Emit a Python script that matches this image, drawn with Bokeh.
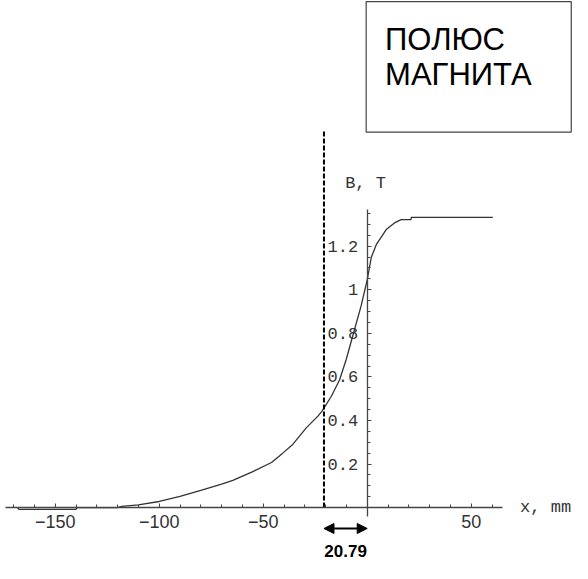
from bokeh.plotting import figure
from bokeh.models import (Range1d, FixedTicker, Label, BoxAnnotation, Arrow,
                          NormalHead, ColumnDataSource)
from bokeh.embed import file_html
from bokeh.resources import INLINE

# ---- data ----
x_mm = [-168, -167.5, -140, -139.5, -120, -118, -110, -100, -90, -80, -70,
        -64.6, -55, -46, -40.6, -35.8, -29.3, -23.7, -21.8, -17.3, -13.3,
        -10.1, -6.9, -2.9, 0, 2, 4.5, 9.3, 13.1, 16.3, 21, 21.2, 60.4]
b_t = [0, -0.008, -0.008, 0, 0, 0.006, 0.012, 0.028, 0.052, 0.079, 0.108,
       0.125, 0.165, 0.207, 0.25, 0.29, 0.366, 0.42, 0.442, 0.51, 0.586,
       0.68, 0.79, 0.927, 1.045, 1.15, 1.21, 1.278, 1.307, 1.322, 1.322,
       1.332, 1.332]

x_major_ticks = [-150, -100, -50, 50]
x_tick_labels = ["\u2212150", "\u2212100", "\u221250", "50"]
x_minor_ticks = [-170, -160, -150, -140, -130, -120, -110, -100, -90, -80,
                 -70, -60, -50, -40, -30, -20, -10, 0, 10, 20, 30, 40, 50, 60]
y_major_ticks = [0.2, 0.4, 0.6, 0.8, 1.0, 1.2]
y_tick_labels = ["0.2", "0.4", "0.6", "0.8", "1", "1.2"]
y_minor_ticks = [0.05, 0.1, 0.15, 0.2, 0.25, 0.3, 0.35, 0.4, 0.45, 0.5, 0.55,
                 0.6, 0.65, 0.7, 0.75, 0.8, 0.85, 0.9, 0.95, 1.0, 1.05, 1.1,
                 1.15, 1.2, 1.25, 1.3, 1.35]

pole_gap = 20.79          # distance of the dashed line from the pole edge
dashed_top = 1.732
x_label = "x, mm"
y_label = "B, T"
box_lines = ["ПОЛЮС", "МАГНИТА"]

# ---- figure ----
p = figure(width=572, height=563, output_backend="svg", toolbar_location=None,
           x_range=Range1d(-176.3, 98.7), y_range=Range1d(-0.2567, 2.328),
           min_border=0)
p.outline_line_color = None
p.grid.visible = False
p.background_fill_color = "white"

axis_color = "#444444"
for ax in (p.xaxis[0], p.yaxis[0]):
    ax.fixed_location = 0
    ax.axis_line_color = axis_color
    ax.axis_line_width = 1.3
    ax.major_tick_line_color = axis_color
    ax.minor_tick_line_color = axis_color
    ax.major_tick_in = 4
    ax.major_tick_out = 0
    ax.minor_tick_in = 3
    ax.minor_tick_out = 0

xa = p.xaxis[0]
xa.ticker = FixedTicker(ticks=x_major_ticks, minor_ticks=x_minor_ticks)
xa.major_label_overrides = dict(zip([float(t) for t in x_major_ticks], x_tick_labels))
xa.bounds = (-174, 65)
xa.major_label_text_font = "Liberation Sans"
xa.major_label_text_font_size = "18px"
xa.major_label_text_color = "#333333"
xa.major_label_standoff = 7

ya = p.yaxis[0]
ya.ticker = FixedTicker(ticks=y_major_ticks, minor_ticks=y_minor_ticks)
ya.major_label_overrides = dict(zip(y_major_ticks, y_tick_labels))
ya.bounds = (-0.04, 1.37)
ya.major_label_text_font = "Liberation Mono"
ya.major_label_text_font_size = "17px"
ya.major_label_text_color = "#333333"
ya.major_label_standoff = 9

# curve
src = ColumnDataSource(data=dict(x=x_mm, y=b_t))
p.line("x", "y", source=src, line_color="#333333", line_width=1.3)

# dashed line at the measured distance
p.segment(x0=[-pole_gap], y0=[0], x1=[-pole_gap], y1=[dashed_top],
          line_color="black", line_width=2, line_dash="5 2")

# double arrow with the distance
p.add_layout(Arrow(start=NormalHead(size=10, fill_color="black", line_color="black"),
                   end=NormalHead(size=10, fill_color="black", line_color="black"),
                   x_start=-pole_gap, y_start=-0.096, x_end=0, y_end=-0.096,
                   line_width=2, line_color="black"))
p.add_layout(Label(x=-pole_gap / 2, y=-0.198, text=f"{pole_gap:.2f}",
                   text_font="Liberation Sans", text_font_size="17px",
                   text_font_style="bold", text_align="center",
                   text_baseline="middle", text_color="black"))

# axis labels
p.add_layout(Label(x=73.5, y=0, text=x_label, text_font="Liberation Mono",
                   text_font_size="17px", text_align="left",
                   text_baseline="middle", text_color="#333333"))
p.add_layout(Label(x=-0.8, y=1.49, text=y_label, text_font="Liberation Mono",
                   text_font_size="17px", text_align="center",
                   text_baseline="middle", text_color="#333333"))

# magnet pole box
p.add_layout(BoxAnnotation(left=-0.5, right=98.1, bottom=1.724, top=2.323,
                           fill_color=None, fill_alpha=0,
                           line_color="#444444", line_alpha=1.0, line_width=1.2))
for txt, yy in zip(box_lines, [2.149, 1.990]):
    p.add_layout(Label(x=8.6, y=yy, text=txt, text_font="Liberation Sans",
                       text_font_size="31px", text_align="left",
                       text_baseline="middle", text_color="black"))

open("out.html", "w").write(file_html(p, INLINE))
